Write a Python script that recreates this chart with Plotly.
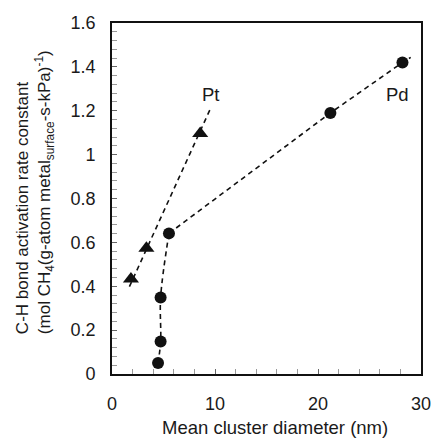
import plotly.graph_objects as go

# Data
pd_x = [28.2, 21.2, 5.53, 4.72, 4.72, 4.47]
pd_y = [1.42, 1.19, 0.641, 0.349, 0.148, 0.050]
pt_x = [8.56, 3.34, 1.84]
pt_y = [1.096, 0.573, 0.433]

# Dashed trend curves
pd_upper_x = [5.53, 21.2, 28.2, 29.0]
pd_upper_y = [0.641, 1.19, 1.42, 1.443]
pd_lower_x = [5.53, 4.72, 4.72, 4.47]
pd_lower_y = [0.641, 0.349, 0.148, 0.050]
pt_trend_x = [1.69, 9.56]
pt_trend_y = [0.398, 1.21]

x_ticks = [0, 10, 20, 30]
y_ticks = [0, 0.2, 0.4, 0.6, 0.8, 1.0, 1.2, 1.4, 1.6]

FONT = "Liberation Sans, Arial, sans-serif"
TXT = "#1a1a1a"
dash = "5px,4px"

fig = go.Figure()
fig.add_trace(go.Scatter(x=pd_upper_x, y=pd_upper_y, mode="lines",
                         line=dict(color="#111", width=1.6, dash=dash), hoverinfo="skip"))
fig.add_trace(go.Scatter(x=pd_lower_x, y=pd_lower_y, mode="lines", line_shape="spline",
                         line=dict(color="#111", width=1.6, dash=dash), hoverinfo="skip"))
fig.add_trace(go.Scatter(x=pt_trend_x, y=pt_trend_y, mode="lines",
                         line=dict(color="#111", width=1.6, dash=dash), hoverinfo="skip"))
fig.add_trace(go.Scatter(x=pd_x, y=pd_y, mode="markers", name="Pd",
                         marker=dict(symbol="circle", size=12, color="#111")))
fig.add_trace(go.Scatter(x=pt_x, y=pt_y, mode="markers", name="Pt",
                         marker=dict(symbol="triangle-up", size=14, color="#111")))

axis_common = dict(
    showgrid=False, zeroline=False, showline=True, linecolor="#111", linewidth=1.8,
    mirror=True, ticks="inside", ticklen=5, tickcolor="#666", tickwidth=1,
    tickfont=dict(family=FONT, size=18, color=TXT),
)
fig.update_xaxes(range=[0, 30], tickvals=x_ticks, ticklabelstandoff=12,
                 minor=dict(dtick=2, ticks="inside", ticklen=5, tickcolor="#999", tickwidth=1),
                 **axis_common)
fig.update_yaxes(range=[0, 1.6], tickvals=y_ticks, ticktext=[f"{v:g}" for v in y_ticks],
                 ticklabelstandoff=11,
                 minor=dict(dtick=0.04, tick0=0, ticks="inside", ticklen=5, tickcolor="#999", tickwidth=1),
                 **axis_common)

fig.add_annotation(x=9.56, y=1.276, xref="x", yref="y", text="Pt", showarrow=False,
                   font=dict(family=FONT, size=18.5, color=TXT))
fig.add_annotation(x=27.7, y=1.276, xref="x", yref="y", text="Pd", showarrow=False,
                   font=dict(family=FONT, size=18.5, color=TXT))
fig.add_annotation(x=0.526, y=-0.151, xref="paper", yref="paper", showarrow=False,
                   text="Mean cluster diameter (nm)", yanchor="middle",
                   font=dict(family=FONT, size=18.5, color=TXT))
fig.add_annotation(x=-0.249, y=0.108, xref="paper", yref="paper", showarrow=False,
                   textangle=-90, align="left", xanchor="center", yanchor="bottom",
                   text="C-H bond activation rate constant<br>"
                        "(mol CH<sub>4</sub>(g-atom metal<sub>surface</sub>-s-kPa)<sup>-1</sup>)",
                   font=dict(family=FONT, size=17, color=TXT))

fig.update_layout(width=442, height=446, showlegend=False,
                  margin=dict(l=112, r=10.5, t=23, b=72),
                  paper_bgcolor="white", plot_bgcolor="white")
fig.write_html("out.html")
